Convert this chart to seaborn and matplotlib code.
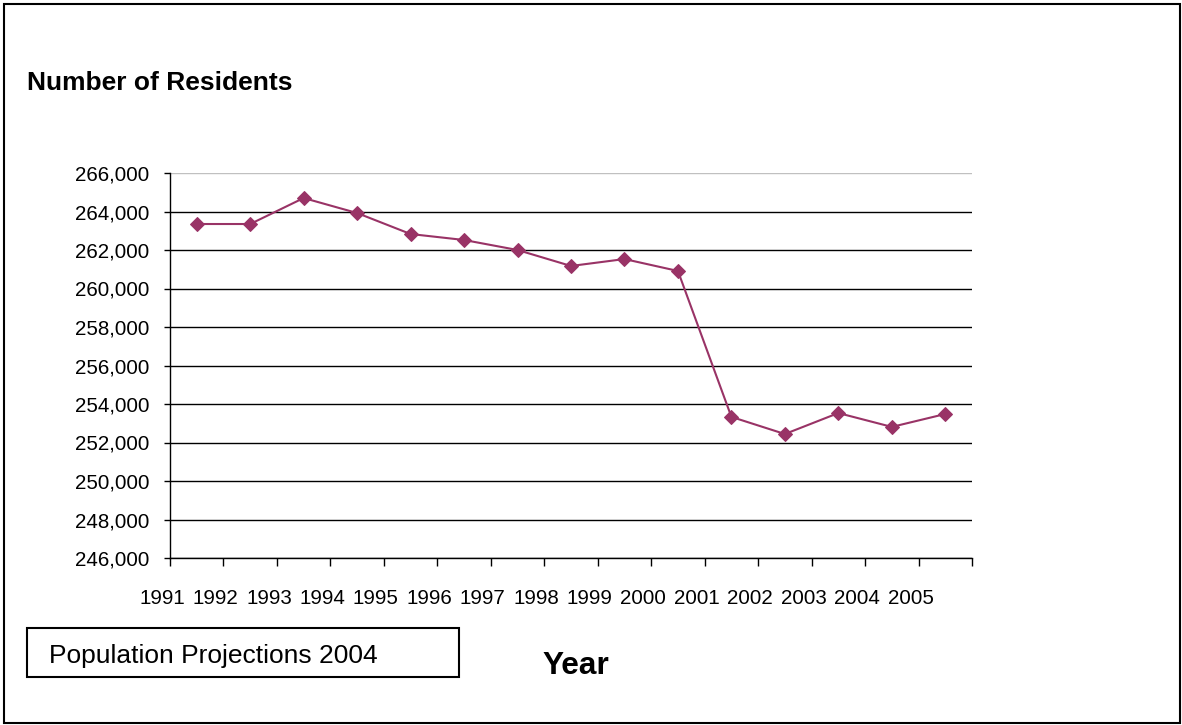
import matplotlib
matplotlib.use("Agg")
import matplotlib.pyplot as plt
import matplotlib.transforms as mtransforms
import seaborn as sns
import pandas as pd
import numpy as np
from matplotlib.patches import Rectangle
from matplotlib.ticker import FuncFormatter

years = ["1991", "1992", "1993", "1994", "1995", "1996", "1997", "1998",
         "1999", "2000", "2001", "2002", "2003", "2004", "2005"]
residents = [263350, 263350, 264700, 263920, 262830, 262520, 262000, 261170,
             261530, 260910, 253330, 252440, 253530, 252810, 253480]
y_ticks = [246000, 248000, 250000, 252000, 254000, 256000, 258000, 260000,
           262000, 264000, 266000]

sns.set_theme(style="white")
plt.rcParams['font.family'] = ['Liberation Sans', 'DejaVu Sans']
plt.rcParams['text.color'] = 'black'
plt.rcParams['xtick.color'] = 'black'
plt.rcParams['ytick.color'] = 'black'
plt.rcParams['xtick.labelcolor'] = 'black'
plt.rcParams['ytick.labelcolor'] = 'black'

W, H = 1182, 725
fig = plt.figure(figsize=(W / 100, H / 100), dpi=100)
ax = fig.add_axes([170 / W, (H - 558) / H, (972 - 170) / W, (558 - 173) / H])

df = pd.DataFrame({"pos": np.arange(len(years)), "residents": residents})
sns.lineplot(data=df, x="pos", y="residents", ax=ax, color="#993366",
             marker="D", markersize=7, markeredgecolor="#993366",
             linewidth=1.5)

ax.set_xlim(-0.5, len(years) - 0.5)
ax.set_ylim(y_ticks[0], y_ticks[-1])
ax.set_yticks(y_ticks)
ax.yaxis.set_major_formatter(FuncFormatter(lambda v, p: f"{int(v):,}"))
ax.tick_params(axis="y", which="major", direction="out", length=4, width=1,
               color="black", labelcolor="black", labelsize=14.8, pad=11,
               left=True)

# category boundaries as tick marks, labels slightly left of each boundary
ax.set_xticks(np.arange(-0.5, len(years), 1.0))
ax.set_xticklabels([])
ax.tick_params(axis="x", which="major", direction="out", length=6, width=1,
               color="black", bottom=True)
trans = mtransforms.blended_transform_factory(ax.transData, ax.transAxes)
for i, yr in enumerate(years):
    ax.text(i - 0.65, -0.104, yr, transform=trans, ha="center", va="center",
            fontsize=14.8, color="black", clip_on=False)

ax.set_xlabel("")
ax.set_ylabel("")
ax.yaxis.grid(True, color="black", linewidth=1)
ax.xaxis.grid(False)
gl = ax.get_ygridlines()
gl[-1].set_color("#c0c0c0")
for s in ["top", "right"]:
    ax.spines[s].set_visible(False)
for s in ["left", "bottom"]:
    ax.spines[s].set_color("black")
    ax.spines[s].set_linewidth(1)

fig.text(27 / W, (H - 83) / H, "Number of Residents", fontsize=19,
         fontweight="bold", ha="left", va="center", color="black")
fig.text(576 / W, (H - 666) / H, "Year", fontsize=22.8, fontweight="bold",
         ha="center", va="center", color="black")
fig.patches.append(Rectangle((27 / W, (H - 677) / H), 432 / W, 49 / H,
                             transform=fig.transFigure, fill=False,
                             edgecolor="black", linewidth=1.5))
fig.text(49 / W, (H - 656) / H, "Population Projections 2004", fontsize=19,
         ha="left", va="center", color="black")
fig.patches.append(Rectangle((4 / W, 2 / H), 1176 / W, 719 / H,
                             transform=fig.transFigure, fill=False,
                             edgecolor="black", linewidth=1.5))

fig.savefig("out.png", dpi=100)
